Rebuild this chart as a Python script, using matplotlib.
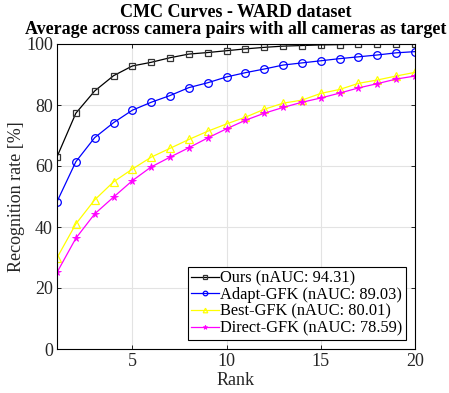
"""
CMC curves on the WARD dataset, MATLAB-style figure.
"""
import matplotlib
matplotlib.use("Agg")
import matplotlib.pyplot as plt
import numpy as np

plt.rcParams["font.family"] = ["Liberation Serif", "DejaVu Serif"]
plt.rcParams["mathtext.fontset"] = "stix"

ranks = np.arange(1, 21)

ours = [63.0, 77.3, 84.6, 89.6, 92.8, 94.0, 95.5, 96.7, 97.2, 97.8,
        98.4, 98.9, 99.3, 99.5, 99.7, 99.8, 99.9, 99.9, 100.0, 100.0]
adapt_gfk = [48.3, 61.4, 69.3, 74.2, 78.3, 80.9, 83.1, 85.7, 87.3, 89.2,
             90.6, 91.8, 93.1, 93.8, 94.5, 95.2, 95.8, 96.4, 97.1, 97.5]
best_gfk = [29.9, 41.0, 48.9, 54.8, 59.0, 62.9, 65.8, 68.7, 71.4, 73.8,
            76.0, 78.6, 80.6, 81.6, 83.8, 85.1, 87.1, 88.2, 89.5, 90.7]
direct_gfk = [25.1, 36.3, 44.3, 49.8, 55.2, 59.7, 62.9, 66.0, 69.2, 72.2,
              75.0, 77.3, 79.2, 80.9, 82.3, 83.9, 85.6, 87.0, 88.5, 89.5]

labels = ["Ours (nAUC: 94.31)", "Adapt-GFK (nAUC: 89.03)",
          "Best-GFK (nAUC: 80.01)", "Direct-GFK (nAUC: 78.59)"]
title = "CMC Curves - WARD dataset\nAverage across camera pairs with all cameras as target"

fig = plt.figure(figsize=(4.49, 3.93), dpi=100)
ax = fig.add_axes([57 / 449, 1 - 349 / 393, 358 / 449, 305 / 393])

ax.plot(ranks, ours, color="black", lw=0.9, marker="s", ms=4,
        mfc="none", mec="#333333", mew=0.9, label=labels[0])
ax.plot(ranks, adapt_gfk, color="blue", lw=0.9, marker="o", ms=5.5,
        mfc="none", mec="blue", mew=0.9, label=labels[1])
ax.plot(ranks, best_gfk, color="yellow", lw=0.9, marker="^", ms=5.5,
        mfc="none", mec="yellow", mew=0.9, label=labels[2])
ax.plot(ranks, direct_gfk, color="magenta", lw=0.9, marker="*", ms=5.5,
        mfc="magenta", mec="magenta", mew=0.6, label=labels[3])

ax.set_xlim(1, 20)
ax.set_ylim(0, 100)
ax.set_xticks([5, 10, 15, 20])
ax.set_yticks(np.arange(0, 101, 20))
ax.grid(True, color="#e3e3e3", lw=0.8)
ax.set_axisbelow(True)
ax.tick_params(direction="in", top=True, right=True, labelsize=13, length=3,
               width=0.6, pad=3, labelcolor="#262626")
for s in ax.spines.values():
    s.set_linewidth(0.8)

ax.set_xlabel("Rank", fontsize=13, labelpad=1, color="#262626")
ax.set_ylabel("Recognition rate [%]", fontsize=13, labelpad=1, color="#262626")
ax.set_title(title, fontsize=13, fontweight="bold", linespacing=1.0, pad=7)

leg = ax.legend(loc="lower right", fontsize=11.8, fancybox=False, framealpha=1,
                edgecolor="black", handlelength=1.7, handletextpad=0.1,
                borderpad=0.2, labelspacing=0.05, borderaxespad=0.55,
                markerscale=0.6)
leg.get_frame().set_linewidth(0.8)

fig.savefig("out.png", dpi=100)
